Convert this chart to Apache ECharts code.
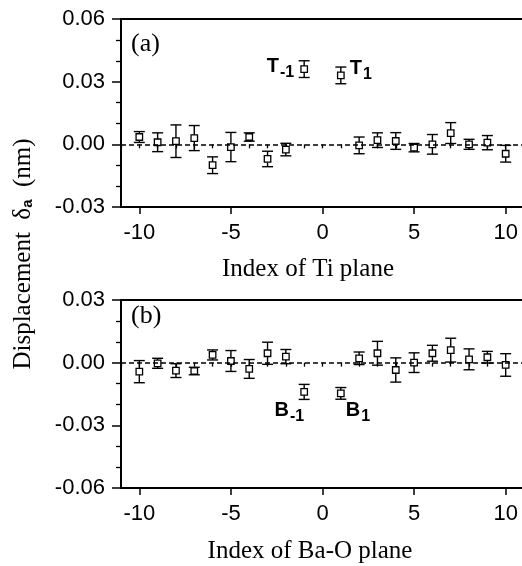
<!DOCTYPE html>
<html>
<head>
<meta charset="utf-8">
<script src="https://cdn.jsdelivr.net/npm/echarts@6/dist/echarts.min.js"></script>
<style>
  html, body { margin: 0; padding: 0; background: #fff; }
  #chart { width: 522px; height: 566px; }
</style>
</head>
<body>
<div id="chart"></div>
<script>
// Plane indices (the interface planes at -1 and 1 are the tagged ones)
const planeIndex = [-10, -9, -8, -7, -6, -5, -4, -3, -2, -1, 1, 2, 3, 4, 5, 6, 7, 8, 9, 10];

// (a) Ti planes: displacement (nm) and error
const tiDisp = [0.0035, 0.001, 0.0015, 0.003, -0.010, -0.0013, 0.0035, -0.007, -0.0025, 0.036,
                0.033, -0.0005, 0.002, 0.0016, -0.0016, 0.0, 0.0054, 0.0, 0.0008, -0.0045];
const tiErr  = [0.0026, 0.0045, 0.0078, 0.006, 0.004, 0.007, 0.002, 0.0037, 0.003, 0.004,
                0.004, 0.004, 0.0035, 0.004, 0.002, 0.0047, 0.005, 0.0024, 0.0034, 0.004];

// (b) Ba-O planes: displacement (nm) and error
const baDisp = [-0.0043, -0.0003, -0.0038, -0.004, 0.0037, 0.0008, -0.003, 0.0045, 0.0029, -0.014,
                -0.0147, 0.0021, 0.0045, -0.0035, 0.0, 0.0045, 0.006, 0.0016, 0.0026, -0.0011];
const baErr  = [0.0053, 0.0024, 0.0033, 0.0018, 0.0024, 0.005, 0.0045, 0.0053, 0.0034, 0.0036,
                0.0028, 0.003, 0.0057, 0.0058, 0.0047, 0.0038, 0.0057, 0.005, 0.0028, 0.0054];

// Tags on the interface planes
const tiTags = { '-1': ['T', '-1'], '1': ['T', '1'] };
const baTags = { '-1': ['B', '-1'], '1': ['B', '1'] };

// Axis ticks
const xMajorTicks = [-10, -5, 0, 5, 10];
const yTicksA = [-0.03, 0.00, 0.03, 0.06];
const yTicksB = [-0.06, -0.03, 0.00, 0.03];

const SANS = 'Liberation Sans, Arial, sans-serif';
const SERIF = 'Liberation Serif, Times New Roman, serif';
const BLACK = '#000';

const chart = echarts.init(document.getElementById('chart'), null, { renderer: 'canvas' });

function xAxesFor(gridIndex) {
  return [
    {
      type: 'value', gridIndex, min: -11, max: 11, position: 'bottom',
      axisLine: { show: true, onZero: false, lineStyle: { color: BLACK, width: 2 } },
      axisTick: { show: true, customValues: xMajorTicks, length: 7, lineStyle: { color: BLACK, width: 1.5 } },
      axisLabel: { customValues: xMajorTicks, color: BLACK, fontFamily: SANS, fontSize: 22, margin: 15 },
      splitLine: { show: false }
    },
    {
      type: 'value', gridIndex, min: -11, max: 11, interval: 1, position: 'bottom',
      axisLine: { show: false },
      axisTick: { show: true, length: 4, lineStyle: { color: BLACK, width: 1.3 } },
      axisLabel: { show: false },
      splitLine: { show: false }
    }
  ];
}

function yAxisFor(gridIndex, ticks) {
  return {
    type: 'value', gridIndex, min: ticks[0], max: ticks[ticks.length - 1], interval: 0.03,
    axisLine: { show: true, onZero: false, lineStyle: { color: BLACK, width: 2 } },
    axisTick: { show: true, length: 9, lineStyle: { color: BLACK, width: 1.5 } },
    minorTick: { show: true, splitNumber: 3, length: 5, lineStyle: { color: BLACK, width: 1.3 } },
    axisLabel: {
      color: BLACK, fontFamily: SANS, fontSize: 22, margin: 16,
      formatter: v => (Math.abs(v) < 1e-9 ? 0 : v).toFixed(2)
    },
    splitLine: { show: false }
  };
}

function errorBars(xAxisIndex, yAxisIndex, disp, err) {
  return {
    type: 'custom', xAxisIndex, yAxisIndex, silent: true, z: 2,
    data: planeIndex.map((x, i) => [x, disp[i], err[i]]),
    encode: { x: 0, y: 1 },
    renderItem: function (params, api) {
      const x = api.value(0), y = api.value(1), e = api.value(2);
      const top = api.coord([x, y + e]);
      const bot = api.coord([x, y - e]);
      const hw = 5.5;
      const st = { stroke: BLACK, lineWidth: 1.4 };
      return {
        type: 'group',
        children: [
          { type: 'line', shape: { x1: top[0], y1: top[1], x2: bot[0], y2: bot[1] }, style: st },
          { type: 'line', shape: { x1: top[0] - hw, y1: top[1], x2: top[0] + hw, y2: top[1] }, style: st },
          { type: 'line', shape: { x1: bot[0] - hw, y1: bot[1], x2: bot[0] + hw, y2: bot[1] }, style: st }
        ]
      };
    }
  };
}

const tagRich = {
  m: { fontFamily: SANS, fontWeight: 'bold', fontSize: 20, color: BLACK, lineHeight: 21, verticalAlign: 'top' },
  s: { fontFamily: SANS, fontWeight: 'bold', fontSize: 16, color: BLACK, lineHeight: 17, verticalAlign: 'top', padding: [8, 0, 0, 1] }
};

function points(xAxisIndex, yAxisIndex, disp, tags, placement) {
  const data = planeIndex.map((x, i) => {
    const item = { value: [x, disp[i]] };
    const tag = tags[String(x)];
    if (tag) {
      const p = placement[String(x)];
      item.label = {
        show: true, position: 'inside', align: p.align, verticalAlign: 'middle', offset: p.offset,
        formatter: '{m|' + tag[0] + '}{s|' + tag[1] + '}', rich: tagRich
      };
    }
    return item;
  });
  return {
    type: 'scatter', xAxisIndex, yAxisIndex, z: 3, silent: true,
    symbol: 'rect', symbolSize: 6.5,
    itemStyle: { color: '#fff', borderColor: BLACK, borderWidth: 1.3, opacity: 1 },
    data,
    markLine: {
      silent: true, symbol: 'none', animation: false,
      label: { show: false },
      lineStyle: { color: BLACK, width: 1.5, type: [5, 3] },
      data: [{ yAxis: 0 }]
    }
  };
}

const option = {
  animation: false,
  backgroundColor: '#fff',
  grid: [
    { left: 121, top: 19, width: 403, height: 188, show: true, borderColor: BLACK, borderWidth: 2, outerBoundsMode: 'none' },
    { left: 121, top: 300, width: 403, height: 188, show: true, borderColor: BLACK, borderWidth: 2, outerBoundsMode: 'none' }
  ],
  xAxis: [...xAxesFor(0), ...xAxesFor(1)],
  yAxis: [yAxisFor(0, yTicksA), yAxisFor(1, yTicksB)],
  series: [
    errorBars(0, 0, tiDisp, tiErr),
    points(0, 0, tiDisp, tiTags, {
      '-1': { align: 'right', offset: [-10, -2] },
      '1': { align: 'left', offset: [9, -6] }
    }),
    errorBars(2, 1, baDisp, baErr),
    points(2, 1, baDisp, baTags, {
      '-1': { align: 'right', offset: [0, 19] },
      '1': { align: 'left', offset: [5, 18] }
    })
  ],
  graphic: [
    { type: 'text', left: 131, top: 31, style: { text: '(a)', font: '26px ' + SERIF, fill: BLACK } },
    { type: 'text', left: 131, top: 303, style: { text: '(b)', font: '26px ' + SERIF, fill: BLACK } },
    { type: 'text', x: 308, y: 269, style: { text: 'Index of Ti plane', font: '25px ' + SERIF, fill: BLACK, align: 'center', verticalAlign: 'middle' } },
    { type: 'text', x: 310, y: 551, style: { text: 'Index of Ba-O plane', font: '25px ' + SERIF, fill: BLACK, align: 'center', verticalAlign: 'middle' } },
    {
      type: 'text', x: 23, y: 254, rotation: Math.PI / 2,
      style: {
        text: '{t|Displacement  δ}{sub|a}{t|  (nm)}',
        align: 'center', verticalAlign: 'middle',
        rich: {
          t: { fontFamily: SERIF, fontSize: 25, fill: BLACK, color: BLACK, lineHeight: 26 },
          sub: { fontFamily: SANS, fontWeight: 'bold', fontSize: 15, fill: BLACK, color: BLACK, lineHeight: 26, padding: [10, 0, 0, 0] }
        }
      }
    }
  ]
};

chart.setOption(option);
</script>
</body>
</html>
